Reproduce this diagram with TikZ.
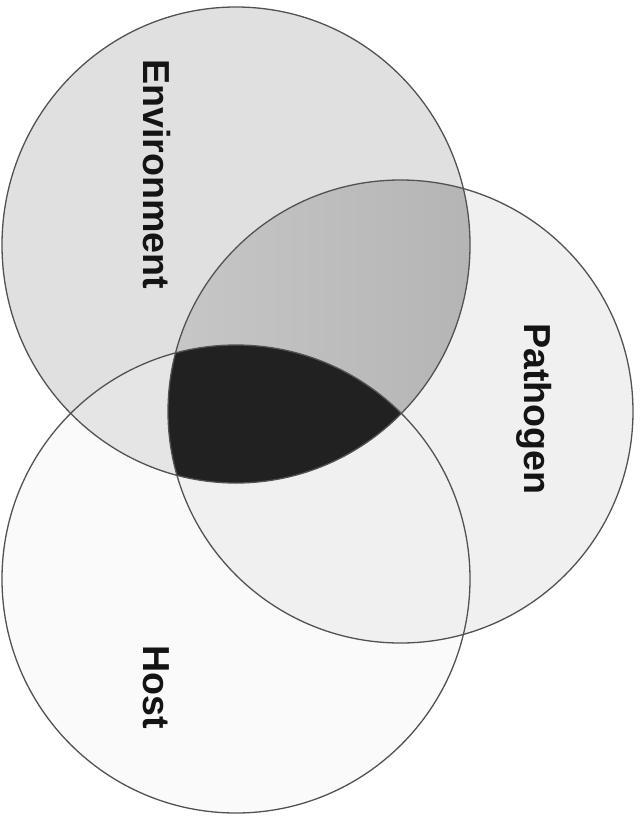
\documentclass[tikz,border=0pt]{standalone}
\usepackage{fontspec}
\setmainfont{Liberation Sans}
\begin{document}
\begin{tikzpicture}[x=1pt,y=-1pt,
  outline/.style={draw=black!68, line width=1.3pt},
  vlabel/.style={font=\fontsize{37.6}{40}\selectfont\bfseries, rotate=-90, anchor=base west, inner sep=0pt, text=black!92},
  envfill/.style={fill=black!12},
  pathfill/.style={fill=black!6},
  hostfill/.style={fill=black!2},
  hpfill/.style={fill=black!6},
  ehfill/.style={fill=black!10},
  centerfill/.style={fill=black!87}]
\fill[white] (0,0) rectangle (642,823);
\useasboundingbox (0,0) rectangle (642,823);
\coordinate (cE) at (236,245);
\coordinate (cP) at (400.5,411.5);
\coordinate (cH) at (236,579);
% base fills
\fill[hostfill] (cH) ellipse [x radius=234pt, y radius=234pt];
\fill[pathfill] (cP) ellipse [x radius=232.5pt, y radius=231.5pt];
\fill[envfill] (cE) ellipse [x radius=234pt, y radius=238pt];
% host & pathogen
\begin{scope}
  \clip (cH) ellipse [x radius=234pt, y radius=234pt];
  \fill[hpfill] (cP) ellipse [x radius=232.5pt, y radius=231.5pt];
\end{scope}
% environment & host
\begin{scope}
  \clip (cE) ellipse [x radius=234pt, y radius=238pt];
  \fill[ehfill] (cH) ellipse [x radius=234pt, y radius=234pt];
\end{scope}
% environment & pathogen
\begin{scope}
  \clip (cE) ellipse [x radius=234pt, y radius=238pt];
  \shade[left color=black!22, right color=black!33] (cP) ellipse [x radius=232.5pt, y radius=231.5pt];
\end{scope}
% all three
\begin{scope}
  \clip (cE) ellipse [x radius=234pt, y radius=238pt];
  \clip (cH) ellipse [x radius=234pt, y radius=234pt];
  \fill[centerfill] (cP) ellipse [x radius=232.5pt, y radius=231.5pt];
\end{scope}
% outlines
\draw[outline] (cE) ellipse [x radius=234pt, y radius=238pt];
\draw[outline] (cP) ellipse [x radius=232.5pt, y radius=231.5pt];
\draw[outline] (cH) ellipse [x radius=234pt, y radius=234pt];
% labels
\node[vlabel] (env) at (143,59) {Environment};
\node[vlabel] (path) at (524,323) {Pathogen};
\node[vlabel] (host) at (143,645) {Host};
\end{tikzpicture}
\end{document}
